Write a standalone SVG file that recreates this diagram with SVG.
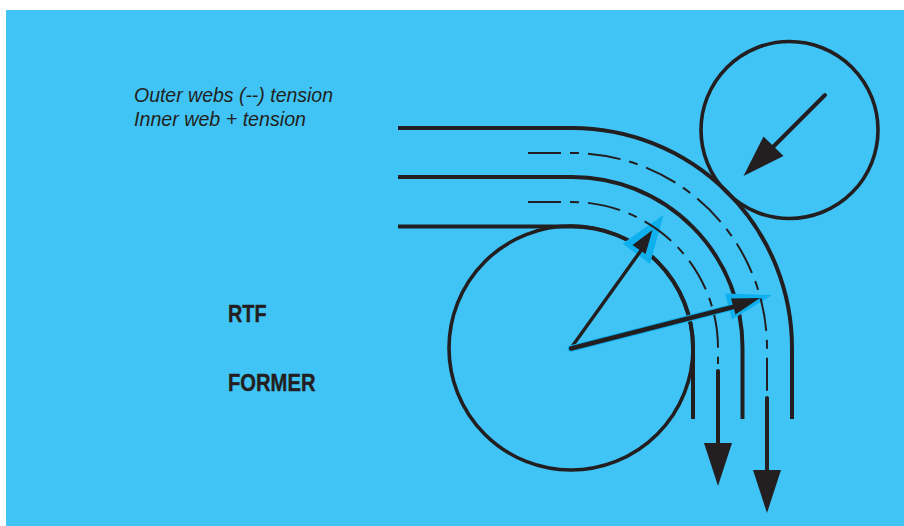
<svg xmlns="http://www.w3.org/2000/svg" width="904" height="526" viewBox="0 0 904 526">
<style>
.w{fill:none;stroke:#231f20;stroke-width:4}
.c{fill:none;stroke:#231f20;stroke-width:3.6}
.d{fill:none;stroke:#231f20;stroke-width:2;stroke-dasharray:33 9 9 9}
.l{fill:none;stroke:#231f20;stroke-width:4;stroke-linecap:round}
.h{fill:#231f20}
.b{fill:#0fb0ee}
.t{font-family:"Liberation Sans",sans-serif;fill:#231f20}
.i{font-size:21px;font-style:italic}
.f{font-size:24.500px;font-weight:bold;stroke:#231f20;stroke-width:.4}
</style>
<rect width="904" height="526" fill="#fff"/>
<rect x="6" y="10" width="898" height="516" fill="#40c4f6"/>
<g id="former"><circle class="c" cx="571" cy="348" r="122"/></g>
<g id="nip-roller"><circle class="c" cx="789.500" cy="130" r="88.500"/></g>
<g id="connectors">
<path class="w" d="M398 128H572A220 220 0 0 1 792 348V419"/>
<path class="w" d="M398 177H572A170.500 170.500 0 0 1 742.500 347.500V419"/>
<path class="w" d="M398 226.500H572A121 121 0 0 1 693 347.500V419"/>
<path class="l" d="M718 371V445"/>
<path class="h" d="M704 443H732L718 486Z"/>
<path class="l" d="M767 398V472"/>
<path class="h" d="M753 470H781L767 513Z"/>
<path class="l" d="M825 95L770 150"/>
<path class="h" d="M763.500 136.500L783.500 156L743.500 176Z"/>
<path class="b" d="M663.500 215L650 264L622.500 243.500Z"/>
<path class="b" d="M772 295L732 319.500L725 293.500Z"/>
<path d="M571 348L642 249" fill="none" stroke="#231f20" stroke-width="3.400" stroke-linecap="round"/>
<path class="h" d="M652.500 230L645.500 254L632.500 245Z"/>
<path d="M571 348.500L735 306.500" fill="none" stroke="#0fb0ee" stroke-width="6.500" stroke-linecap="round"/>
<path d="M571 348.500L735 306.500" fill="none" stroke="#231f20" stroke-width="4.400" stroke-linecap="round"/>
<path class="h" d="M760 298L735.500 314.500L731 298.500Z"/>
<path class="d" d="M528 153H572A195 195 0 0 1 767 348V391"/>
<path class="d" d="M528 202H572A146 146 0 0 1 718 348V364"/>
</g>
<g id="labels">
<text class="t i" x="134" y="101.500" textLength="199" lengthAdjust="spacingAndGlyphs">Outer webs (--) tension</text>
<text class="t i" x="134" y="126" textLength="172" lengthAdjust="spacingAndGlyphs">Inner web + tension</text>
<text class="t f" x="228" y="321.500" textLength="38.500" lengthAdjust="spacingAndGlyphs">RTF</text>
<text class="t f" x="228" y="391" textLength="87.500" lengthAdjust="spacingAndGlyphs">FORMER</text>
</g>
</svg>
